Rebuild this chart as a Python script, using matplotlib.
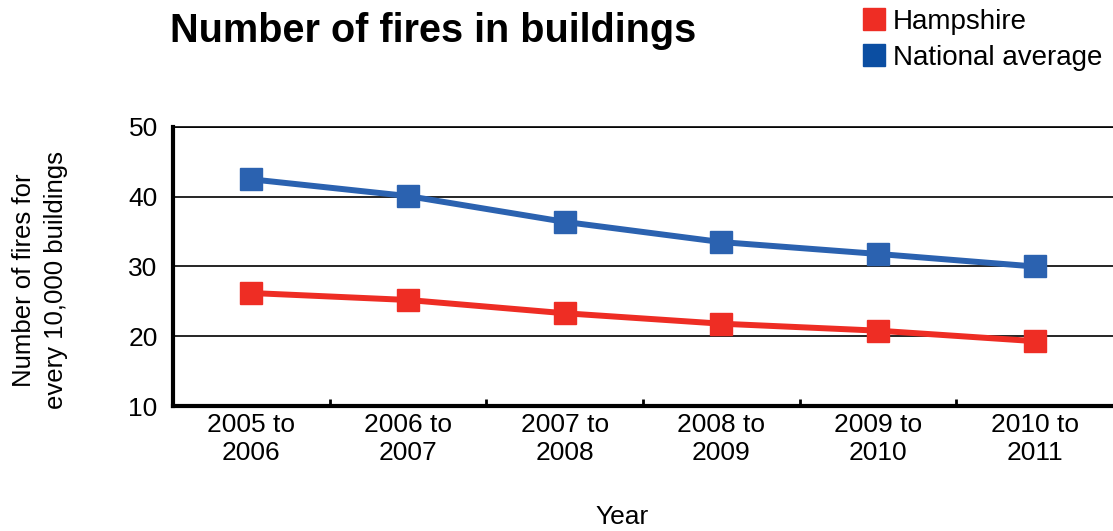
import matplotlib
matplotlib.use("Agg")
import matplotlib.pyplot as plt
from matplotlib.lines import Line2D
import numpy as np

plt.rcParams['font.family'] = ['Liberation Sans', 'DejaVu Sans']

# data
years = ["2005 to\n2006", "2006 to\n2007", "2007 to\n2008",
         "2008 to\n2009", "2009 to\n2010", "2010 to\n2011"]
hampshire = [26.2, 25.2, 23.3, 21.8, 20.8, 19.3]
national = [42.5, 40.1, 36.4, 33.5, 31.8, 30.0]

RED = '#EE2D24'
BLUE = '#2B62B0'
BLUE_LEG = '#0B4EA2'

fig = plt.figure(figsize=(11.13, 5.31), dpi=100)
ax = fig.add_axes([173 / 1113, 125 / 531, 1 - 173 / 1113, 279 / 531])

x = np.arange(len(years))
ax.plot(x, national, '-s', color=BLUE, lw=4.3, markersize=16.5, zorder=3, clip_on=False)
ax.plot(x, hampshire, '-s', color=RED, lw=4.3, markersize=16.5, zorder=3, clip_on=False)

ax.set_xlim(-0.5, len(years) - 0.5)
ax.set_ylim(10, 50)
ax.set_yticks([10, 20, 30, 40, 50])
ax.tick_params(axis='y', length=0, labelsize=19, pad=11)
ax.yaxis.grid(True, color='black', lw=1.2)
ax.set_axisbelow(True)

# category labels centred, tick marks at category boundaries
ax.set_xticks(x)
ax.set_xticklabels(years, fontsize=19, linespacing=1.2)
ax.tick_params(axis='x', length=0, pad=5)
ax.set_xticks(np.arange(0.5, len(years) - 0.5), minor=True)
ax.tick_params(axis='x', which='minor', direction='in', length=5, width=2)

for side in ['left', 'bottom']:
    ax.spines[side].set_linewidth(3)
ax.spines['top'].set_linewidth(1.2)
ax.spines['right'].set_visible(False)

fig.text(622 / 1113, 1 - 517 / 531, 'Year', fontsize=19, ha='center', va='center')
fig.text(40 / 1113, 1 - 280 / 531, 'Number of fires for\nevery 10,000 buildings',
         fontsize=18.5, rotation=90, ha='center', va='center', linespacing=1.4)

fig.text(433 / 1113, 1 - 31 / 531, 'Number of fires in buildings', fontsize=28.5,
         fontweight='bold', ha='center', va='center')

handles = [Line2D([], [], marker='s', ls='none', color=RED, markersize=16.5),
           Line2D([], [], marker='s', ls='none', color=BLUE_LEG, markersize=16.5)]
fig.legend(handles, ['Hampshire', 'National average'], loc='upper left',
           bbox_to_anchor=(846 / 1113, 1.004), frameon=False, fontsize=20,
           handletextpad=0.1, labelspacing=0.35, borderaxespad=0, handlelength=1.2)

fig.savefig('out.png', dpi=100)
